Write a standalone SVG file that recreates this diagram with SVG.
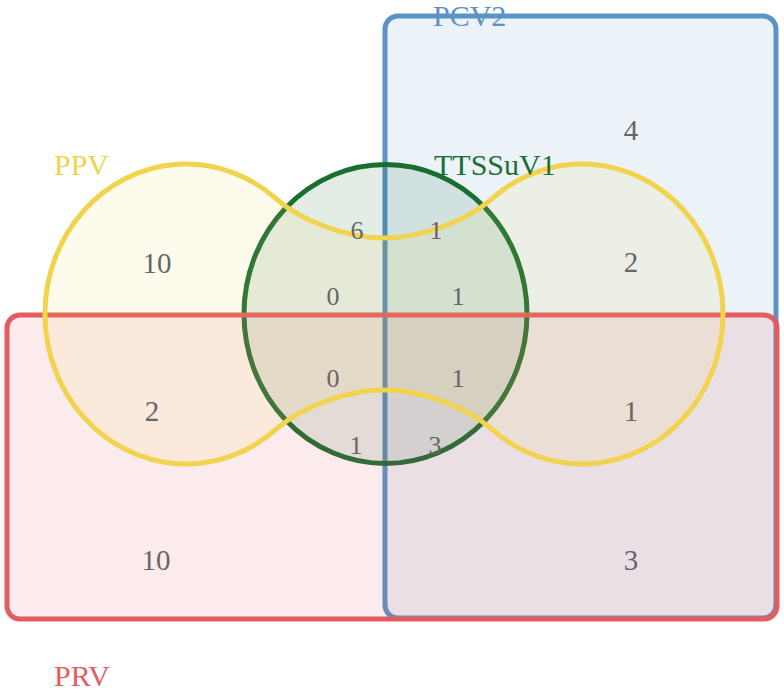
<svg xmlns="http://www.w3.org/2000/svg" width="784" height="693" viewBox="0 0 784 693">
<style>
.set{stroke-width:5;}
.num{font-family:"Liberation Serif","Times New Roman",serif;fill:#666666;text-anchor:middle;}
.big{font-size:29px;}
.small{font-size:26px;}
.lab{font-family:"Liberation Serif","Times New Roman",serif;font-size:30px;}
</style>
<rect width="784" height="693" fill="#ffffff"/>
<g id="PCV2">
<rect class="set" x="385" y="16" width="391" height="602" rx="13" fill="#5b93c7" fill-opacity="0.12" stroke="#5b93c7"/>
</g>
<g id="TTSSuV1">
<ellipse class="set" cx="385.5" cy="314" rx="141.5" ry="149.5" fill="#1a6e32" fill-opacity="0.12" stroke="#1a6e32"/>
</g>
<g id="PRV">
<rect class="set" x="7" y="315" width="770" height="304" rx="13" fill="#e35c60" fill-opacity="0.12" stroke="#e35c60"/>
</g>
<g id="PPV">
<path class="set" d="M276.6,199.1 C299,219 344,238 384,238 C424,238 469,219 491.4,199.1 A141 150 0 1 1 491.4,428.9 C469,409 424,390 384,390 C344,390 299,409 276.6,428.9 A141 150 0 1 1 276.6,199.1 Z" fill="#f1d34e" fill-opacity="0.1" stroke="#f1d34e"/>
</g>
<g id="labels">
<text class="lab" x="433" y="26" fill="#5b93c7">PCV2</text>
<text class="lab" x="54" y="175" fill="#f1d34e">PPV</text>
<text class="lab" x="434" y="175" fill="#1a6e32">TTSSuV1</text>
<text class="lab" x="54" y="686" fill="#e35c60">PRV</text>
</g>
<g id="counts">
<text class="num big" x="631" y="140">4</text>
<text class="num big" x="157" y="273">10</text>
<text class="num big" x="631" y="272">2</text>
<text class="num big" x="152" y="421">2</text>
<text class="num big" x="631" y="421">1</text>
<text class="num big" x="156" y="570">10</text>
<text class="num big" x="631" y="570">3</text>
<text class="num small" x="357" y="239">6</text>
<text class="num small" x="436" y="239">1</text>
<text class="num small" x="333" y="305">0</text>
<text class="num small" x="458" y="305">1</text>
<text class="num small" x="333" y="387">0</text>
<text class="num small" x="458" y="387">1</text>
<text class="num small" x="356" y="454">1</text>
<text class="num small" x="435" y="454">3</text>
</g>
</svg>
